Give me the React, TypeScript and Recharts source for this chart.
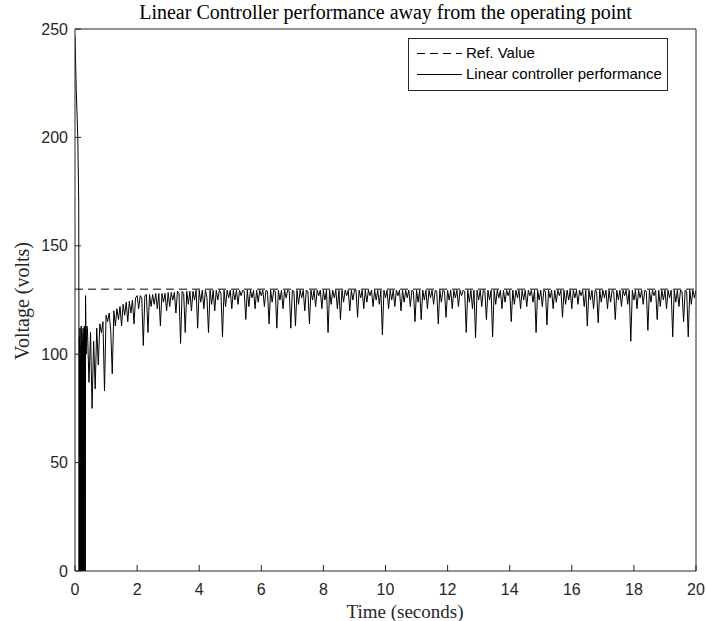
import { LineChart, Line, XAxis, YAxis, ReferenceLine } from 'recharts'

// tick labels
const xTicks = [0, 2, 4, 6, 8, 10, 12, 14, 16, 18, 20]
const yTicks = [0, 50, 100, 150, 200, 250]

const refValue = 130

// start-up: fast drop from 250 V and heavy chattering between 0 and ~110 V
const startupTime = [
  0, 0.04, 0.09, 0.12, 0.125, 0.13,
  0.14, 0.15, 0.16, 0.17, 0.18, 0.19, 0.2, 0.21, 0.22, 0.23,
  0.24, 0.25, 0.26, 0.27, 0.28, 0.29, 0.3, 0.31, 0.32, 0.33,
  0.34, 0.36, 0.38,
]
const startupVolts = [
  247, 222, 200, 170, 120, 0,
  108, 0, 112, 0, 104, 0, 113, 0, 110, 0,
  106, 0, 112, 0, 109, 0, 113, 0, 111, 0,
  127, 100, 113,
]

// transient 0.40 .. 1.95 s, sampled every 0.05 s
const transientStart = 0.4
const transientVolts = [
  112, 87, 110, 75, 106, 84, 112, 95, 114, 110, 115, 83, 118, 115, 119, 111,
  91, 120, 113, 121, 116, 122, 113, 123, 118, 124, 115, 124.5, 119, 125, 114, 126,
]

// steady state, sampled every 0.05 s (one row = one second)
const steadyStart = 2
const steadyA = [
  127, 121, 127, 126, 104, 127, 127.5, 110, 127.5, 122, 127.5, 123, 128, 121, 128, 113, 128, 124, 128, 120,
  128.5, 122, 128.5, 125, 128.5, 119, 129, 128, 105, 129, 128, 110, 129, 123, 129, 120, 129, 125, 129.5, 112,
  129.5, 124, 129.5, 121, 129.5, 126, 110, 129.5, 123, 129.5, 120, 129.5, 125, 129.5, 128, 108, 129.5, 122, 129.5, 126,
  129.5, 121, 129.5, 125, 129.5, 123, 129.5, 127, 129.5, 129, 116, 129.5, 122, 129.5, 126, 129.5, 121, 129.5, 124, 129.5,
]
const steadyB = [
  127, 129.5, 122, 129.5, 129, 114, 129.5, 124, 129.5, 129, 112, 129.5, 125, 129.5, 121, 129.5, 126, 129.5, 129, 112,
  129.5, 129, 113, 129.5, 123, 129.5, 126, 129.5, 120, 129.5, 129, 114, 129.5, 125, 129.5, 122, 129.5, 127, 129.5, 121,
  129.5, 125, 129.5, 110, 129.5, 123, 129.5, 126, 129.5, 121, 129.5, 116, 129.5, 124, 129.5, 127, 129.5, 120, 129.5, 125,
  129.5, 129.5, 117, 129.5, 126, 129.5, 121, 129.5, 124, 129.5, 127, 129.5, 122, 129.5, 125, 129.5, 123, 129.5, 109, 129.5,
]
const steadyC = [
  126, 129.5, 121, 129.5, 125, 129.5, 122, 129.5, 127, 129.5, 120, 129.5, 124, 129.5, 126, 129.5, 122, 129.5, 129, 115,
  129.5, 124, 129.5, 116, 129.5, 125, 129.5, 121, 129.5, 126, 129.5, 123, 129.5, 129, 114, 129.5, 124, 129.5, 129, 117,
  129.5, 125, 129.5, 121, 129.5, 126, 129.5, 122, 129.5, 127, 129.5, 129, 110, 129.5, 124, 129.5, 121, 129.5, 107.5, 129.5,
  125, 129.5, 122, 129.5, 129, 116, 129.5, 125, 129.5, 108, 129.5, 123, 129.5, 126, 129.5, 121, 129.5, 124, 129.5, 127,
]
const steadyD = [
  129.5, 115, 129.5, 123, 129.5, 126, 129.5, 121, 129.5, 125, 129.5, 122, 129.5, 127, 129.5, 124, 129.5, 110, 129.5, 125,
  129.5, 122, 129.5, 129, 113.5, 129.5, 126, 129.5, 121, 129.5, 124, 129.5, 127, 129.5, 117, 129.5, 123, 129.5, 125, 129.5,
  121, 129.5, 126, 129.5, 123, 129.5, 127, 129.5, 122, 129.5, 113, 129.5, 125, 129.5, 121, 129.5, 129, 114.5, 129.5, 124,
  129.5, 126, 129.5, 121, 129.5, 124, 129.5, 129, 116, 129.5, 125, 129.5, 122, 129.5, 127, 129.5, 123, 129.5, 106, 129.5,
]
const steadyE = [
  125, 129.5, 121, 129.5, 126, 129.5, 123, 129.5, 129, 111, 129.5, 124, 129.5, 127, 129.5, 116, 129.5, 122, 129.5, 125,
  129.5, 121, 129.5, 126, 129.5, 108, 129.5, 124, 129.5, 122, 129.5, 129, 115, 129.5, 129, 108, 129.5, 123, 129.5, 126,
  129.5,
]

const step = 0.05
const steadyVolts = [...steadyA, ...steadyB, ...steadyC, ...steadyD, ...steadyE]

const data = [
  ...startupTime.map((t, i) => ({ t, v: startupVolts[i] })),
  ...transientVolts.map((v, i) => ({ t: +(transientStart + i * step).toFixed(2), v })),
  ...steadyVolts.map((v, i) => ({ t: +(steadyStart + i * step).toFixed(2), v })),
]

const axisColor = '#262626'
const sans = '"Liberation Sans", Arial, sans-serif'
const tickFont = { fill: axisColor, fontSize: 16, fontFamily: sans }
const serif = '"Liberation Serif", "Times New Roman", serif'

export default function App() {
  return (
    <div style={{ position: 'absolute', left: 0, top: 0, width: 707, height: 621, background: '#fff' }}>
      {/* plot area: x 75..696, y 29..571 */}
      <LineChart width={707} height={621} data={data} margin={{ top: 19, right: 1, bottom: 20, left: 35 }}>
        <XAxis
          dataKey="t"
          type="number"
          domain={[0, 20]}
          ticks={xTicks}
          height={30}
          tickSize={-6}
          tickMargin={19}
          tick={tickFont}
          stroke={axisColor}
          allowDataOverflow
        />
        <XAxis
          xAxisId="top"
          orientation="top"
          type="number"
          domain={[0, 20]}
          ticks={xTicks}
          height={10}
          tickSize={-6}
          tick={false}
          stroke={axisColor}
          allowDataOverflow
        />
        <YAxis
          type="number"
          domain={[0, 250]}
          ticks={yTicks}
          width={40}
          tickSize={-6}
          tickMargin={13}
          tick={tickFont}
          stroke={axisColor}
          allowDataOverflow
        />
        <YAxis
          yAxisId="right"
          orientation="right"
          type="number"
          domain={[0, 250]}
          ticks={yTicks}
          width={10}
          tickSize={-6}
          tick={false}
          stroke={axisColor}
          allowDataOverflow
        />
        <ReferenceLine y={refValue} stroke="#000" strokeDasharray="8 5" />
        <Line
          type="linear"
          dataKey="v"
          stroke="#000"
          strokeWidth={1}
          dot={false}
          isAnimationActive={false}
        />
      </LineChart>
      <svg width={707} height={621} style={{ position: 'absolute', left: 0, top: 0, pointerEvents: 'none' }}>
        <text x={385.5} y={18.5} textAnchor="middle" fontSize={20} fontFamily={serif} fill="#000">
          Linear Controller performance away from the operating point
        </text>
        <text x={405} y={617.5} textAnchor="middle" fontSize={19} fontFamily={serif} fill={axisColor}>
          Time (seconds)
        </text>
        <text x={29} y={301} textAnchor="middle" fontSize={20} fontFamily={serif} fill={axisColor} transform="rotate(-90 29 301)">
          Voltage (volts)
        </text>
        <g transform="translate(408 38)">
          <rect x={0.5} y={0.5} width={259} height={52} fill="#fff" stroke={axisColor} />
          <line x1={9} x2={54} y1={15.5} y2={15.5} stroke="#000" strokeDasharray="8 5" />
          <text x={58} y={20} fontSize={15} fontFamily={sans} fill="#000">Ref. Value</text>
          <line x1={9} x2={54} y1={36.5} y2={36.5} stroke="#000" />
          <text x={58} y={41} fontSize={15} fontFamily={sans} fill="#000">Linear controller performance</text>
        </g>
      </svg>
    </div>
  )
}
